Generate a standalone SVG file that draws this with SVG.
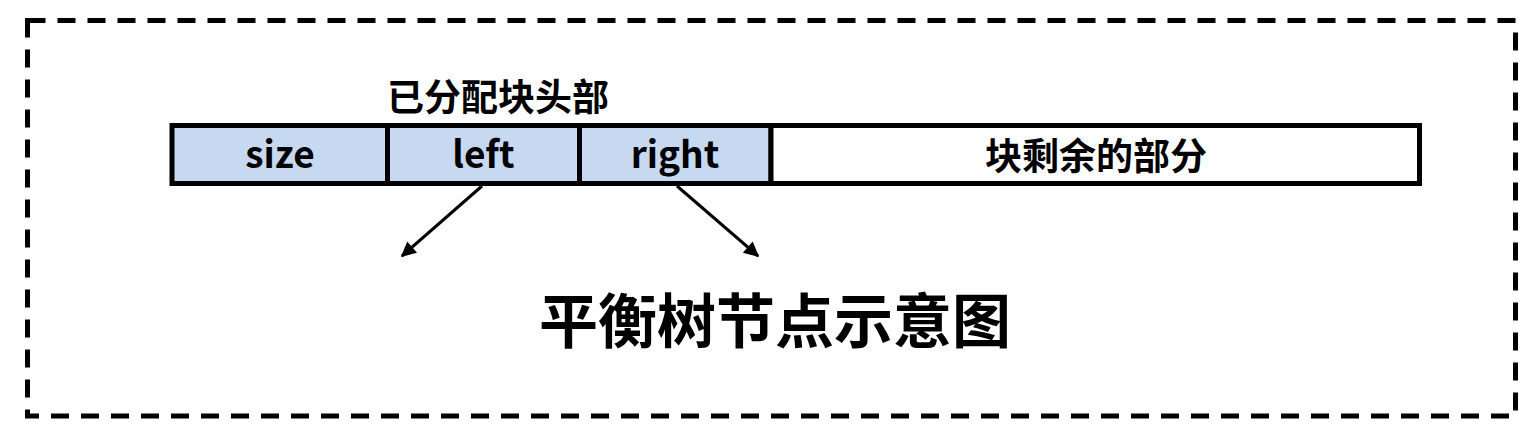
<svg xmlns="http://www.w3.org/2000/svg" width="1523" height="422" viewBox="0 0 1523 422">
<style>
.t{font-family:"Noto Sans CJK SC","Noto Sans",sans-serif;font-weight:bold;fill:#000;text-anchor:middle}
.cell{stroke:#000;stroke-width:5}
.hdr{fill:#c6d9f0}
.conn{stroke:#000;stroke-width:3;fill:none}
</style>
<defs>
<marker id="ah" viewBox="0 0 10 10" refX="9" refY="5" markerWidth="5.5" markerHeight="5" orient="auto" markerUnits="strokeWidth">
<path d="M0,0 L10,5 L0,10 Z" fill="#000"/>
</marker>
</defs>
<rect id="frame" x="27.5" y="20.5" width="1488" height="395.5" fill="none" stroke="#000" stroke-width="5" stroke-dasharray="18 12"/>
<g id="node-size">
<rect class="cell hdr" x="172" y="125.5" width="215.5" height="58"/>
<text class="t" x="280" y="168" font-size="37">size</text>
</g>
<g id="node-left">
<rect class="cell hdr" x="387.5" y="125.5" width="192" height="58"/>
<text class="t" x="483.5" y="168" font-size="37">left</text>
</g>
<g id="node-right">
<rect class="cell hdr" x="579.5" y="125.5" width="191.5" height="58"/>
<text class="t" x="675" y="168" font-size="37">right</text>
</g>
<g id="node-rest">
<rect class="cell" fill="#fff" x="771" y="125.5" width="648.5" height="58"/>
<text class="t" x="1096" y="170" font-size="37">块剩余的部分</text>
</g>
<g id="label-header">
<text class="t" x="498" y="111" font-size="37">已分配块头部</text>
</g>
<g id="connectors">
<line class="conn" x1="482" y1="186" x2="402" y2="256" marker-end="url(#ah)"/>
<line class="conn" x1="677" y1="186" x2="758" y2="256" marker-end="url(#ah)"/>
</g>
<g id="title">
<text class="t" x="775" y="343" font-size="59">平衡树节点示意图</text>
</g>
</svg>
